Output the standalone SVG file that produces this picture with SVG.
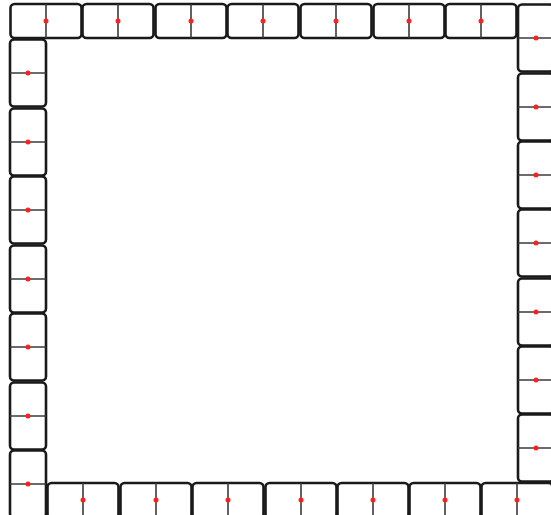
<svg xmlns="http://www.w3.org/2000/svg" width="551" height="515" viewBox="0 0 551 515">
<style>
.b{fill:#fff;stroke:#1a1a1a;stroke-width:2.6}
.d{stroke:#3a3a3a;stroke-width:1.6}
.p{fill:#ff2020}
</style>
<rect width="551" height="515" fill="#fff"/>
<g id="top">
<g id="t1"><rect class="b" x="10.5" y="4" width="71" height="34" rx="4"/><line class="d" x1="46" y1="4" x2="46" y2="38"/><circle class="p" cx="46" cy="21" r="2.5"/></g>
<g id="t2"><rect class="b" x="82.5" y="4" width="71" height="34" rx="4"/><line class="d" x1="118" y1="4" x2="118" y2="38"/><circle class="p" cx="118" cy="21" r="2.5"/></g>
<g id="t3"><rect class="b" x="155.5" y="4" width="71" height="34" rx="4"/><line class="d" x1="191" y1="4" x2="191" y2="38"/><circle class="p" cx="191" cy="21" r="2.5"/></g>
<g id="t4"><rect class="b" x="227.5" y="4" width="71" height="34" rx="4"/><line class="d" x1="263" y1="4" x2="263" y2="38"/><circle class="p" cx="263" cy="21" r="2.5"/></g>
<g id="t5"><rect class="b" x="300.5" y="4" width="71" height="34" rx="4"/><line class="d" x1="336" y1="4" x2="336" y2="38"/><circle class="p" cx="336" cy="21" r="2.5"/></g>
<g id="t6"><rect class="b" x="373.5" y="4" width="71" height="34" rx="4"/><line class="d" x1="409" y1="4" x2="409" y2="38"/><circle class="p" cx="409" cy="21" r="2.5"/></g>
<g id="t7"><rect class="b" x="445.5" y="4" width="71" height="34" rx="4"/><line class="d" x1="481" y1="4" x2="481" y2="38"/><circle class="p" cx="481" cy="21" r="2.5"/></g>
</g>
<g id="right">
<g id="r1"><rect class="b" x="518" y="4.5" width="36" height="67" rx="4"/><line class="d" x1="518" y1="38" x2="554" y2="38"/><circle class="p" cx="536" cy="38" r="2.5"/></g>
<g id="r2"><rect class="b" x="518" y="73.5" width="36" height="67" rx="4"/><line class="d" x1="518" y1="107" x2="554" y2="107"/><circle class="p" cx="536" cy="107" r="2.5"/></g>
<g id="r3"><rect class="b" x="518" y="141.5" width="36" height="67" rx="4"/><line class="d" x1="518" y1="175" x2="554" y2="175"/><circle class="p" cx="536" cy="175" r="2.5"/></g>
<g id="r4"><rect class="b" x="518" y="209.5" width="36" height="67" rx="4"/><line class="d" x1="518" y1="243" x2="554" y2="243"/><circle class="p" cx="536" cy="243" r="2.5"/></g>
<g id="r5"><rect class="b" x="518" y="278.5" width="36" height="67" rx="4"/><line class="d" x1="518" y1="312" x2="554" y2="312"/><circle class="p" cx="536" cy="312" r="2.5"/></g>
<g id="r6"><rect class="b" x="518" y="346.5" width="36" height="67" rx="4"/><line class="d" x1="518" y1="380" x2="554" y2="380"/><circle class="p" cx="536" cy="380" r="2.5"/></g>
<g id="r7"><rect class="b" x="518" y="414.5" width="36" height="67" rx="4"/><line class="d" x1="518" y1="448" x2="554" y2="448"/><circle class="p" cx="536" cy="448" r="2.5"/></g>
</g>
<g id="bottom">
<g id="b1"><rect class="b" x="47.5" y="483" width="71" height="35" rx="4"/><line class="d" x1="83" y1="483" x2="83" y2="518"/><circle class="p" cx="83" cy="500" r="2.5"/></g>
<g id="b2"><rect class="b" x="120.5" y="483" width="71" height="35" rx="4"/><line class="d" x1="156" y1="483" x2="156" y2="518"/><circle class="p" cx="156" cy="500" r="2.5"/></g>
<g id="b3"><rect class="b" x="192.5" y="483" width="71" height="35" rx="4"/><line class="d" x1="228" y1="483" x2="228" y2="518"/><circle class="p" cx="228" cy="500" r="2.5"/></g>
<g id="b4"><rect class="b" x="265.5" y="483" width="71" height="35" rx="4"/><line class="d" x1="301" y1="483" x2="301" y2="518"/><circle class="p" cx="301" cy="500" r="2.5"/></g>
<g id="b5"><rect class="b" x="337.5" y="483" width="71" height="35" rx="4"/><line class="d" x1="373" y1="483" x2="373" y2="518"/><circle class="p" cx="373" cy="500" r="2.5"/></g>
<g id="b6"><rect class="b" x="409.5" y="483" width="71" height="35" rx="4"/><line class="d" x1="445" y1="483" x2="445" y2="518"/><circle class="p" cx="445" cy="500" r="2.5"/></g>
<g id="b7"><rect class="b" x="481.5" y="483" width="71" height="35" rx="4"/><line class="d" x1="517" y1="483" x2="517" y2="518"/><circle class="p" cx="517" cy="500" r="2.5"/></g>
</g>
<g id="left">
<g id="l1"><rect class="b" x="10" y="39.5" width="36" height="67" rx="4"/><line class="d" x1="10" y1="73" x2="46" y2="73"/><circle class="p" cx="28" cy="73" r="2.5"/></g>
<g id="l2"><rect class="b" x="10" y="108.5" width="36" height="67" rx="4"/><line class="d" x1="10" y1="142" x2="46" y2="142"/><circle class="p" cx="28" cy="142" r="2.5"/></g>
<g id="l3"><rect class="b" x="10" y="176.5" width="36" height="67" rx="4"/><line class="d" x1="10" y1="210" x2="46" y2="210"/><circle class="p" cx="28" cy="210" r="2.5"/></g>
<g id="l4"><rect class="b" x="10" y="245.5" width="36" height="67" rx="4"/><line class="d" x1="10" y1="279" x2="46" y2="279"/><circle class="p" cx="28" cy="279" r="2.5"/></g>
<g id="l5"><rect class="b" x="10" y="313.5" width="36" height="67" rx="4"/><line class="d" x1="10" y1="347" x2="46" y2="347"/><circle class="p" cx="28" cy="347" r="2.5"/></g>
<g id="l6"><rect class="b" x="10" y="382.5" width="36" height="67" rx="4"/><line class="d" x1="10" y1="416" x2="46" y2="416"/><circle class="p" cx="28" cy="416" r="2.5"/></g>
<g id="l7"><rect class="b" x="10" y="450.5" width="36" height="67" rx="4"/><line class="d" x1="10" y1="484" x2="46" y2="484"/><circle class="p" cx="28" cy="484" r="2.5"/></g>
</g>
<g id="connectors"/>
</svg>
